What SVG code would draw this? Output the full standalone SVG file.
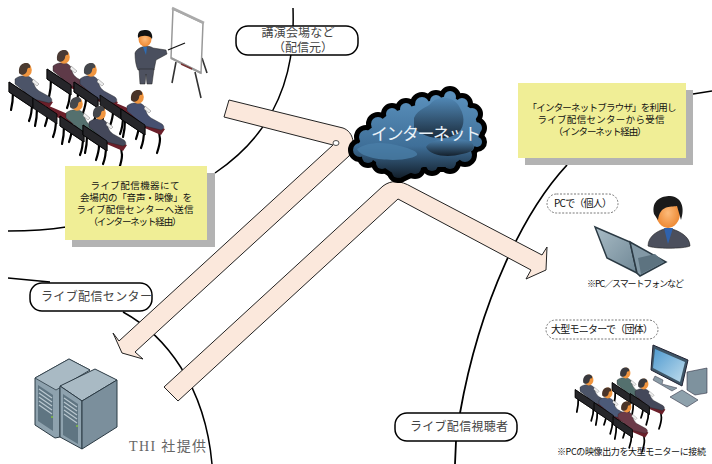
<svg xmlns="http://www.w3.org/2000/svg" width="712" height="464" viewBox="0 0 712 464">
<style>
text{font-family:"Noto Sans CJK JP","Noto Sans",sans-serif;fill:#111}
.n{font-size:9.500px;text-anchor:middle}
.b{font-size:12px;fill:#444}
.arc{fill:none;stroke:#000;stroke-width:1.500}
.box{fill:#fff;stroke:#000;stroke-width:1.500}
.note{fill:#f0ee96}.sh{fill:#b3b3b3}
.arr{fill:#fbe8dc;stroke:#222;stroke-width:1}
.pill{fill:#fff;stroke:#555;stroke-width:.8;stroke-dasharray:2 1.500}
.leg{fill:none;stroke:#000;stroke-width:2.200;stroke-linecap:round}
</style>
<defs>
<linearGradient id="cl" gradientUnits="userSpaceOnUse" x1="0" y1="95" x2="0" y2="180"><stop offset="0" stop-color="#5a90bc"/><stop offset=".6" stop-color="#3f6f98"/><stop offset="1" stop-color="#101a24"/></linearGradient>
<linearGradient id="cl2" x1="0" y1="0" x2="0" y2="1"><stop offset="0" stop-color="#4f86b4"/><stop offset="1" stop-color="#14202c"/></linearGradient>
<linearGradient id="sc" x1="0" y1="0" x2="1" y2="1"><stop offset="0" stop-color="#4f9ad0"/><stop offset="1" stop-color="#bfdcec"/></linearGradient>
<linearGradient id="lp" x1="0" y1="0" x2="1" y2="1"><stop offset="0" stop-color="#a9bcc6"/><stop offset="1" stop-color="#6f8795"/></linearGradient>
<radialGradient id="fc"><stop offset="0" stop-color="#fdbb7a"/><stop offset="1" stop-color="#ee8a35"/></radialGradient>
<g id="cb">
<path d="M355 150L365 133L390 113L423 103L450 95L473 110L480 133L473 150L450 167L423 167L400 178L373 160Z"/>
<circle cx="360" cy="150" r="7"/><circle cx="366" cy="137" r="7"/><circle cx="378" cy="124" r="7"/><circle cx="392" cy="114" r="6"/><circle cx="406" cy="109" r="6"/><circle cx="422" cy="104" r="7"/><circle cx="436" cy="101" r="6"/><circle cx="450" cy="97" r="6"/><circle cx="462" cy="104" r="6"/><circle cx="472" cy="114" r="6"/><circle cx="476" cy="128" r="6"/><circle cx="477" cy="142" r="5"/><circle cx="465" cy="155" r="7"/><circle cx="450" cy="163" r="6"/><circle cx="432" cy="165" r="6"/><circle cx="415" cy="168" r="6"/><circle cx="398" cy="172" r="6"/><circle cx="382" cy="163" r="6"/><circle cx="368" cy="157" r="6"/>
</g>
<g id="chair">
<path class="leg" d="M-12 22C-12 30-13 36-14 40M7 33C7 40 6 46 4 51M20 32C24 38 24 44 20 56"/>
<path d="M0 20L28 32L24 38L-4 26Z" fill="#6b1f2a"/>
<path d="M-16 12L8 28L8 38L-16 22Z" fill="#26262a" stroke="#000" stroke-width=".8"/>
</g>
<g id="sit">
<path d="M-10 9C-4 4 5 5 8 10C9 15 10 18 14 21L25 27C28 30 27 32 24 33L8 29L-10 14Z" fill="var(--c,#4a5068)" stroke="#222" stroke-width=".4"/>
<path d="M8 9L14 14L12 16L7 12Z" fill="#eee" stroke="#333" stroke-width=".3"/>
<path d="M-16 12L8 28L8 38L-16 22Z" fill="#26262a" stroke="#000" stroke-width=".8"/>
<ellipse cx="1" cy="0" rx="5.800" ry="6.800" fill="#f0953f"/>
<path d="M-6 3C-7-5-2-7 1-7C4-7 6-5 5-2C3-3 2-1 2 1C1 5-4 6-6 3Z" fill="var(--h,#3a3632)"/>
</g>
<g id="seat"><use href="#chair"/><use href="#sit"/></g>
</defs>

<g id="connectors">
<path class="arc" d="M293 8C294 40 292 75 272 112C257 140 237 158 215 173"/>
<path class="arc" d="M8 231C30 231 48 230 66 227"/>
<path class="arc" d="M8 278L50 282"/>
<path class="arc" d="M123 312C165 335 205 385 212 464"/>
<path class="arc" d="M693 94L712 91"/>
<path class="arc" d="M567 165C525 210 480 300 460 413M456 441L455 464" style="stroke-width:1.800"/>
<path class="arr" d="M229 100L343 128C354 132 356 146 349 156L135 352L143 359L122 353L113 333L119 341L333 145L224 117Z"/>
<ellipse cx="336" cy="143" rx="3" ry="2.500" fill="#fff" stroke="#222" stroke-width=".8"/>
<path class="arr" d="M164 387L383 186C391 180 400 180 412 187L542 255L547 247L546 270L526 279L531 270L398 199L178 401Z"/>
</g>

<g id="internet">
<use href="#cb" fill="#000" stroke="#000" stroke-width="10" stroke-linejoin="round"/>
<use href="#cb" fill="url(#cl)"/>
<path d="M414 118C418 108 428 108 432 102C442 94 456 98 460 108C466 118 464 130 456 134C444 142 424 138 414 128Z" fill="url(#cl2)" opacity=".85"/>
<path d="M426 147C430 140 446 136 466 140C478 144 476 152 462 154C448 158 430 156 426 147Z" fill="url(#cl2)"/>
<path d="M357 149C366 142 384 141 400 146C416 150 424 155 410 158C396 162 362 160 357 149Z" fill="#4a7ea8" opacity=".8"/>
<text x="371" y="140" font-size="17" style="fill:#eaf2f8" textLength="110">インターネット</text>
</g>

<g id="venue-audience">
<use href="#seat" x="63" y="57" style="--c:#5e3a48;--h:#4a3a34"/>
<use href="#seat" x="90" y="70" style="--h:#45474c"/>
<use href="#chair" x="116" y="83"/>
<use href="#seat" x="137" y="97" style="--c:#465070;--h:#4a3428"/>
<use href="#seat" x="25" y="70" style="--c:#4c5468;--h:#4a3a30"/>
<use href="#chair" x="49" y="86"/>
<use href="#seat" x="76" y="104" style="--c:#54706e;--h:#45474c"/>
<use href="#seat" x="99" y="113" style="--c:#44485a;--h:#45474c"/>
</g>

<g id="presenter">
<path d="M172 83L176 62M201 98L195 72M207 73L202 58" stroke="#333" stroke-width="1.600" fill="none"/>
<path d="M173 9L203 23L201 73L171 58Z" fill="#fff" stroke="#999" stroke-width="1.500"/>
<path d="M172 8L204 23" stroke="#aaa" stroke-width="2.500"/>
<path d="M171 58L201 73" stroke="#999" stroke-width="2"/>
<path d="M181 64L192 69" stroke="#733" stroke-width="1.500"/>
<path d="M168 50L185 43" stroke="#111" stroke-width="1.300"/>
<path d="M135 53C137 47 148 44 153 48L166 50L167 54L156 60L154 70H138C136 66 135 60 135 53Z" fill="#4a4f5e" stroke="#222" stroke-width=".5"/>
<path d="M143 47L146 55L147 47Z" fill="#2d6db5"/>
<path d="M139 69H154L152 84H147L146 74L145 84H140Z" fill="#4e5260" stroke="#222" stroke-width=".5"/>
<ellipse cx="145" cy="39" rx="6.500" ry="7.500" fill="url(#fc)"/>
<path d="M138 38C137 30 142 30 146 30C151 30 153 35 152 39C150 35 141 35 138 38Z" fill="#111"/>
</g>

<g id="note-send">
<rect class="sh" x="72" y="173" width="143" height="74"/>
<rect class="note" x="65" y="166" width="142" height="74"/>
<text class="n" x="135" y="189" textLength="89">ライブ配信機器にて</text>
<text class="n" x="136" y="201" textLength="112">会場内の「音声・映像」を</text>
<text class="n" x="135" y="213" textLength="117">ライブ配信センターへ送信</text>
<text class="n" x="135" y="225" textLength="93">（インターネット経由）</text>
</g>

<g id="note-receive">
<rect class="sh" x="525" y="90" width="168" height="75"/>
<rect class="note" x="518" y="83" width="168" height="75"/>
<text class="n" x="602" y="111" textLength="149">「インターネットブラウザ」を利用し</text>
<text class="n" x="601" y="123" textLength="127">ライブ配信センターから受信</text>
<text class="n" x="600" y="135" textLength="93">（インターネット経由）</text>
</g>

<g id="node-venue">
<rect class="box" x="236" y="26" width="122" height="29" rx="12"/>
<text class="b" x="298" y="37" text-anchor="middle" textLength="73">講演会場など</text>
<text class="b" x="303" y="52" text-anchor="middle">（配信元）</text>
</g>

<g id="node-center">
<rect class="box" x="30" y="283" width="122" height="28" rx="12"/>
<text class="b" x="41" y="301" textLength="111">ライブ配信センター</text>
</g>

<g id="node-viewer">
<rect class="box" x="395" y="413" width="122" height="28" rx="12"/>
<text class="b" x="410" y="431" textLength="98">ライブ配信視聴者</text>
</g>

<g id="server">
<path d="M35 378L69 359L90 370L60 386V437L55 438L35 425Z" fill="#8ea2ae" stroke="#2b3a44" stroke-width="1"/>
<path d="M35 378L69 359L90 370L56 390Z" fill="#a9bac4" stroke="#2b3a44" stroke-width=".8"/>
<path d="M38 385L53 395V431L38 421Z" fill="#5f7582"/>
<path d="M60 386L95 369L117 380L82 401Z" fill="#a9bac4" stroke="#2b3a44" stroke-width="1"/>
<path d="M60 386L82 401V449L60 437Z" fill="#8ea2ae" stroke="#2b3a44" stroke-width="1"/>
<path d="M82 401L117 380V427L82 449Z" fill="#7b8f9c" stroke="#2b3a44" stroke-width="1"/>
<path d="M63 394L78 404V444L63 435Z" fill="#5f7582"/>
<path d="M39 389L52 398M39 393L52 402M39 397L52 406M39 401L52 410M39 405L52 414M64 398L77 407M64 402L77 411M64 406L77 415M64 410L77 419M64 414L77 423" stroke="#b8c6ce" stroke-width="1.300"/>
<circle cx="52" cy="417" r="1" fill="#7fbf3f"/><circle cx="77" cy="426" r="1" fill="#7fbf3f"/>
<text x="129" y="451" font-size="14" style="font-family:'Liberation Serif','Noto Sans CJK JP',serif;fill:#666" textLength="77">THI 社提供</text>
</g>

<g id="pc-user">
<rect class="pill" x="547" y="194" width="71" height="19" rx="9.500"/>
<text x="554" y="207" font-size="10" textLength="58">PCで（個人）</text>
<path d="M648 246C648 236 658 230 668 228C678 230 690 236 690 246C684 249 654 249 648 246Z" fill="#4b4f5c" stroke="#222" stroke-width=".6"/>
<path d="M664 228L668 244L673 228Z" fill="#2f62ad"/>
<ellipse cx="668" cy="213" rx="12" ry="15" fill="url(#fc)"/>
<path d="M654 214C651 200 662 196 670 196C682 197 685 208 681 220L677 206C670 207 660 205 658 220Z" fill="#1a1a1a"/>
<path d="M595 227L630 242L637 273L607 258Z" fill="url(#lp)" stroke="#2b3a44" stroke-width="1.500"/>
<path d="M630 242L666 262L640 276L637 273Z" fill="#8298a5" stroke="#2b3a44" stroke-width="1.500"/>
<path d="M638 258L655 254L664 262L641 274Z" fill="#5d7380"/>
<text x="587" y="287" font-size="9" textLength="97">※PC／スマートフォンなど</text>
</g>

<g id="monitor-group">
<rect class="pill" x="546" y="320" width="112" height="19" rx="9.500"/>
<text x="551" y="333" font-size="10" textLength="102">大型モニターで（団体）</text>
<path d="M653 345L688 360L682 386L651 370Z" fill="#3e5566" stroke="#223" stroke-width="1"/>
<path d="M655 349L685 362L680 382L653 368Z" fill="url(#sc)"/>
<path d="M655 376L663 380L662 384L677 388L672 391L653 380Z" fill="#8a9ba6" stroke="#334" stroke-width=".5"/>
<path d="M687 372L707 368V393L695 395L687 390Z" fill="#7e929e" stroke="#334" stroke-width=".6"/>
<path d="M670 397L682 390L698 400L687 407Z" fill="#8ea1ac" stroke="#334" stroke-width=".6"/>
<g transform="translate(625 373) scale(.8)"><use href="#seat" style="--c:#54706e;--h:#3a3a3e"/></g>
<g transform="translate(643 384) scale(.8)"><use href="#seat" style="--c:#44485a;--h:#3a3a3e"/></g>
<g transform="translate(588 380) scale(.8)"><use href="#seat" style="--c:#4c5468;--h:#3a3a3e"/></g>
<g transform="translate(607 393) scale(.8)"><use href="#seat" style="--c:#4c5a78;--h:#4a3428"/></g>
<g transform="translate(626 407) scale(.8)"><use href="#seat" style="--c:#6b3a48;--h:#4a3428"/></g>
<text x="557" y="455" font-size="9" textLength="149">※PCの映像出力を大型モニターに接続</text>
</g>
</svg>
